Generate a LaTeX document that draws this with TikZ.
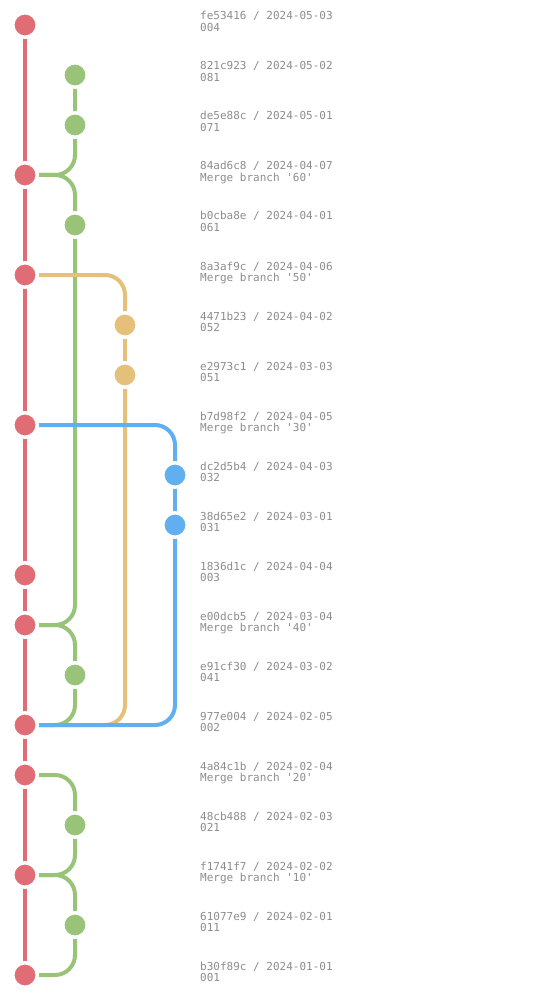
\documentclass[tikz,border=0pt]{standalone}
\usepackage{fontspec}
\setmonofont{DejaVu Sans Mono}
\definecolor{cred}{HTML}{E06C75}
\definecolor{cgreen}{HTML}{98C379}
\definecolor{cyellow}{HTML}{E5C07B}
\definecolor{cblue}{HTML}{61AFEF}
\definecolor{ctext}{HTML}{8C8C8C}
\begin{document}
\begin{tikzpicture}[x=1pt,y=-1pt,
  lane/.style={line width=4pt,rounded corners=20pt},
  dot/.style={circle,fill=#1,draw=white,line width=3.5pt,minimum size=24.5pt,inner sep=0pt,outer sep=0pt},
  info/.style={anchor=base west,inner sep=0pt,align=left,text=ctext,font=\ttfamily\fontsize{11}{11.5}\selectfont}]
\useasboundingbox (0,0) rectangle (550,1000);
% coordinates: lane x, row y
\foreach \i/\l in {0/0,1/1,2/1,3/0,4/1,5/0,6/2,7/2,8/0,9/3,10/3,11/0,12/0,13/1,14/0,15/0,16/1,17/0,18/1,19/0}{
  \coordinate (c\i) at ({25+50*\l},{25+50*\i});
}
% helper corner coordinates
\coordinate (g3) at (75,175);
\coordinate (g12) at (75,625);
\coordinate (g14) at (75,725);
\coordinate (g15) at (75,775);
\coordinate (g17) at (75,875);
\coordinate (g19) at (75,975);
\coordinate (y5) at (125,275);
\coordinate (y14) at (125,725);
\coordinate (b8) at (175,425);
\coordinate (b14) at (175,725);
% red
\draw[lane,cred] (c0) -- (c19);
% green
\draw[lane,cgreen] (c1) -- (c2);
\draw[lane,cgreen] (c2) -- (g3) -- (c3);
\draw[lane,cgreen] (c3) -- (g3) -- (c4);
\draw[lane,cgreen] (c4) -- (g12) -- (c12);
\draw[lane,cgreen] (c12) -- (g12) -- (c13);
\draw[lane,cgreen] (c13) -- (g14) -- (c14);
\draw[lane,cgreen] (c15) -- (g15) -- (c16);
\draw[lane,cgreen] (c16) -- (g17) -- (c17);
\draw[lane,cgreen] (c17) -- (g17) -- (c18);
\draw[lane,cgreen] (c18) -- (g19) -- (c19);
% yellow
\draw[lane,cyellow] (c5) -- (y5) -- (c6);
\draw[lane,cyellow] (c6) -- (c7);
\draw[lane,cyellow] (c7) -- (y14) -- (c14);
% blue
\draw[lane,cblue] (c8) -- (b8) -- (c9);
\draw[lane,cblue] (c9) -- (c10);
\draw[lane,cblue] (c10) -- (b14) -- (c14);
% dots
\foreach \i/\c in {0/cred,1/cgreen,2/cgreen,3/cred,4/cgreen,5/cred,6/cyellow,7/cyellow,8/cred,9/cblue,10/cblue,11/cred,12/cred,13/cgreen,14/cred,15/cred,16/cgreen,17/cred,18/cgreen,19/cred}{
  \node[dot=\c] (d\i) at (c\i) {};
}
% labels
\foreach \i/\t in {0/{fe53416 / 2024-05-03\\004},
  1/{821c923 / 2024-05-02\\081},
  2/{de5e88c / 2024-05-01\\071},
  3/{84ad6c8 / 2024-04-07\\Merge branch '60'},
  4/{b0cba8e / 2024-04-01\\061},
  5/{8a3af9c / 2024-04-06\\Merge branch '50'},
  6/{4471b23 / 2024-04-02\\052},
  7/{e2973c1 / 2024-03-03\\051},
  8/{b7d98f2 / 2024-04-05\\Merge branch '30'},
  9/{dc2d5b4 / 2024-04-03\\032},
  10/{38d65e2 / 2024-03-01\\031},
  11/{1836d1c / 2024-04-04\\003},
  12/{e00dcb5 / 2024-03-04\\Merge branch '40'},
  13/{e91cf30 / 2024-03-02\\041},
  14/{977e004 / 2024-02-05\\002},
  15/{4a84c1b / 2024-02-04\\Merge branch '20'},
  16/{48cb488 / 2024-02-03\\021},
  17/{f1741f7 / 2024-02-02\\Merge branch '10'},
  18/{61077e9 / 2024-02-01\\011},
  19/{b30f89c / 2024-01-01\\001}}{
  \node[info] (t\i) at (200,{31.5+50*\i}) {\t};
}
\end{tikzpicture}
\end{document}
